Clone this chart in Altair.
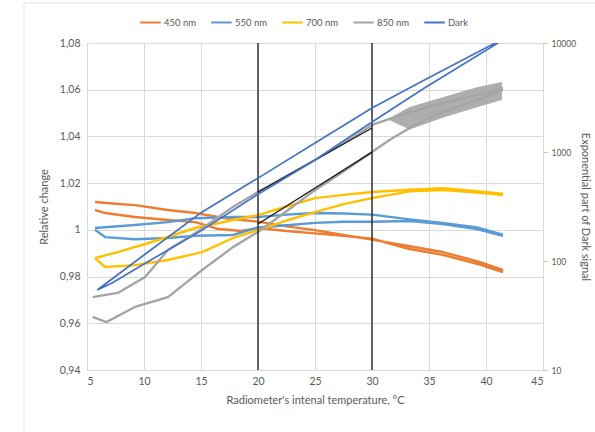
import altair as alt
import pandas as pd

# ---- data ----
series_names = ["450 nm", "550 nm", "700 nm", "850 nm", "Dark"]
series_colors = ["#ED7D31", "#5B9BD5", "#FFC000", "#A5A5A5", "#4472C4"]

# 450 nm (two branches of the temperature loop)
o_a_t = [5.7, 7.5, 9.2, 12.1, 14.5, 17.0, 20.0, 22.5, 25.0, 27.5, 30.0, 33.3, 36.2, 39.2, 41.4]
o_a_v = [1.0119, 1.0112, 1.0106, 1.0085, 1.0072, 1.0051, 1.0035, 1.0015, 0.9999, 0.9978, 0.9958, 0.9930, 0.9905, 0.9866, 0.9830]
o_b_t = [5.7, 6.6, 9.2, 12.1, 14.5, 16.4, 18.5, 20.0, 22.5, 25.0, 27.5, 30.0, 33.3, 36.2, 39.2, 41.4]
o_b_v = [1.0085, 1.0072, 1.0055, 1.0042, 1.0033, 1.0005, 0.9995, 1.0008, 0.9995, 0.9985, 0.9975, 0.9962, 0.9918, 0.9893, 0.9855, 0.9820]

# 550 nm
b_a_t = [5.7, 9.2, 12.1, 14.5, 17.8, 20.0, 22.5, 25.0, 27.5, 30.0, 33.3, 36.2, 39.2, 41.4]
b_a_v = [1.0008, 1.0021, 1.0033, 1.0050, 1.0055, 1.0055, 1.0065, 1.0072, 1.0070, 1.0065, 1.0045, 1.0030, 1.0010, 0.9980]
b_b_t = [5.7, 6.6, 9.2, 12.1, 14.5, 17.8, 20.0, 22.5, 25.0, 27.5, 30.0, 33.3, 36.2, 39.2, 41.4]
b_b_v = [1.0000, 0.9969, 0.9960, 0.9965, 0.9975, 0.9978, 1.0010, 1.0020, 1.0030, 1.0035, 1.0035, 1.0038, 1.0025, 1.0003, 0.9975]

# 700 nm
y_a_t = [5.7, 7.7, 10.7, 14.5, 17.8, 20.0, 22.5, 25.0, 27.5, 30.0, 33.3, 36.2, 39.2, 41.4]
y_a_v = [0.9879, 0.9905, 0.9948, 1.0008, 1.0042, 1.0063, 1.0100, 1.0136, 1.0150, 1.0162, 1.0172, 1.0178, 1.0165, 1.0155]
y_b_t = [5.7, 6.6, 9.2, 12.1, 15.1, 17.8, 20.0, 22.5, 25.0, 27.5, 30.0, 33.3, 36.2, 39.2, 41.4]
y_b_v = [0.9879, 0.9841, 0.9849, 0.9871, 0.9905, 0.9965, 0.9999, 1.0040, 1.0076, 1.0110, 1.0136, 1.0165, 1.0170, 1.0160, 1.0150]

# 850 nm
g_a_t = [5.5, 7.7, 10.1, 12.1, 14.5, 17.8, 20.0, 22.5, 25.0, 27.5, 30.0, 33.3, 36.2, 39.2, 41.4]
g_a_v = [0.9712, 0.9730, 0.9798, 0.9914, 0.9986, 1.0098, 1.0162, 1.0230, 1.0299, 1.0370, 1.0449, 1.0504, 1.0543, 1.0577, 1.0607]
g_b_t = [5.5, 6.7, 9.2, 12.1, 15.1, 17.8, 20.0, 22.5, 25.0, 27.5, 30.0, 31.5, 33.3, 36.2, 39.2, 41.4]
g_b_v = [0.9627, 0.9605, 0.9670, 0.9712, 0.9828, 0.9926, 0.9991, 1.0080, 1.0170, 1.0250, 1.0333, 1.0384, 1.0436, 1.0504, 1.0556, 1.0598]
# visible spread of the noisy 850 nm band where both branches merge
g_band_t = [31.5, 33.3, 36.2, 39.2, 41.4]
g_band_hi = [1.0478, 1.0526, 1.0568, 1.0611, 1.0633]
g_band_lo = [1.0470, 1.0430, 1.0480, 1.0525, 1.0556]

# Dark (right log axis)
d_a_t = [5.9, 10.0, 15.1, 20.0, 25.0, 30.0, 34.6, 40.8]
d_a_v = [54.2, 113.5, 282, 576, 1210, 2535, 4580, 10000]
d_b_t = [5.9, 7.2, 10.0, 15.1, 19.9, 25.0, 30.0, 34.6, 41.05]
d_b_v = [54.2, 62.8, 93.8, 192, 403, 845, 1884, 3864, 10000]

# linear fits between 20 and 30 °C (black)
fit_t = [20, 30]
fit_upper_v = [1.0162, 1.0436]
fit_lower_v = [1.0025, 1.0333]

vline_t = [20, 30]
x_ticks = [5, 10, 15, 20, 25, 30, 35, 40, 45]
y_ticks = [0.94, 0.96, 0.98, 1.00, 1.02, 1.04, 1.06, 1.08]
y2_ticks = [10, 100, 1000, 10000]


def loop(name, at, av, bt, bv):
    rows = []
    i = 0
    for t, v in zip(at, av):
        rows.append({"series": name, "t": t, "v": v, "ord": i}); i += 1
    for t, v in zip(reversed(bt), reversed(bv)):
        rows.append({"series": name, "t": t, "v": v, "ord": i}); i += 1
    return rows


left_rows = (loop("450 nm", o_a_t, o_a_v, o_b_t, o_b_v)
             + loop("550 nm", b_a_t, b_a_v, b_b_t, b_b_v)
             + loop("700 nm", y_a_t, y_a_v, y_b_t, y_b_v)
             + loop("850 nm", g_a_t, g_a_v, g_b_t, g_b_v))
left_df = pd.DataFrame(left_rows)
dark_df = pd.DataFrame(loop("Dark", d_a_t, d_a_v, d_b_t, d_b_v))
band_df = pd.DataFrame({"t": g_band_t, "hi": g_band_hi, "lo": g_band_lo})

fit_df = pd.DataFrame(
    [{"fit": "u", "t": t, "v": v} for t, v in zip(fit_t, fit_upper_v)]
    + [{"fit": "l", "t": t, "v": v} for t, v in zip(fit_t, fit_lower_v)]
)
vline_df = pd.DataFrame({"t": vline_t})

x_scale = alt.Scale(domain=[5, 45], nice=False)

color = alt.Color(
    "series:N",
    scale=alt.Scale(domain=series_names, range=series_colors),
    legend=alt.Legend(
        title=None, orient="none", direction="horizontal", columns=5,
        legendX=52, legendY=-32, symbolType="stroke", symbolSize=420,
        symbolStrokeWidth=2, labelFontSize=9.5, labelFont="Lato",
        labelColor="#595959", columnPadding=10, labelOffset=2,
    ),
)

x_enc = alt.X(
    "t:Q",
    scale=x_scale,
    axis=alt.Axis(values=x_ticks, title="Radiometer's intenal temperature, °C",
                  labelPadding=6, titlePadding=8, ticks=False),
)
y_left_scale = alt.Scale(domain=[0.94, 1.08], nice=False, zero=False)
y_left_axis = alt.Axis(
    values=y_ticks, title="Relative change", ticks=False, labelPadding=7,
    titlePadding=10,
    labelExpr="datum.value == 1 ? '1' : replace(format(datum.value, '.2f'), '.', ',')",
)

series_lines = alt.Chart(left_df).mark_line(strokeWidth=2.4, strokeJoin="round").encode(
    x=x_enc,
    y=alt.Y("v:Q", scale=y_left_scale, axis=y_left_axis),
    color=color,
    detail="series:N",
    order="ord:Q",
)

gray_band = alt.Chart(band_df).mark_area(color="#A5A5A5", opacity=0.9).encode(
    x=alt.X("t:Q", scale=x_scale),
    y=alt.Y("hi:Q", scale=y_left_scale),
    y2="lo:Q",
)

vlines = alt.Chart(vline_df).mark_rule(color="#262626", strokeWidth=1.4).encode(
    x=alt.X("t:Q", scale=x_scale),
)

fits = alt.Chart(fit_df).mark_line(color="#1a1a1a", strokeWidth=1.3).encode(
    x=alt.X("t:Q", scale=x_scale),
    y=alt.Y("v:Q", scale=y_left_scale),
    detail="fit:N",
)

frame_df = pd.DataFrame({"a": [0]})
frame_v = alt.Chart(frame_df).mark_rule(color="#E3E3E3", strokeWidth=1).encode(
    x=alt.value(-63), y=alt.value(-40), y2=alt.value(392)
)
frame_h = alt.Chart(frame_df).mark_rule(color="#E3E3E3", strokeWidth=1).encode(
    x=alt.value(-63), x2=alt.value(510), y=alt.value(-40)
)

left = alt.layer(series_lines, gray_band, vlines, fits, frame_v, frame_h)

dark = alt.Chart(dark_df).mark_line(strokeWidth=1.7, clip=True).encode(
    x=alt.X("t:Q", scale=x_scale),
    y=alt.Y(
        "v:Q",
        scale=alt.Scale(type="log", domain=[10, 10000], nice=False),
        axis=alt.Axis(orient="right", values=y2_ticks, format="d", grid=False,
                      title="Exponential part of Dark signal", ticks=True,
                      tickSize=4, tickColor="#BFBFBF", labelPadding=4,
                      labelFontSize=8.5, titlePadding=4),
    ),
    color=color,
    detail="series:N",
    order="ord:Q",
)

chart = (
    alt.layer(left, dark)
    .resolve_scale(y="independent")
    .properties(
        width=456, height=327,
        autosize=alt.AutoSizeParams(type="none"),
        padding={"left": 87, "top": 43, "right": 52, "bottom": 62},
        background="white",
    )
    .configure_view(stroke=None)
    .configure_axis(
        labelFont="Lato", titleFont="Lato", labelFontSize=10.5, titleFontSize=11,
        labelColor="#595959", titleColor="#595959", titleFontWeight="normal",
        gridColor="#D9D9D9", domainColor="#D9D9D9", gridWidth=1,
    )
)

chart.save("out.html", embed_options={"renderer": "svg", "actions": False})
